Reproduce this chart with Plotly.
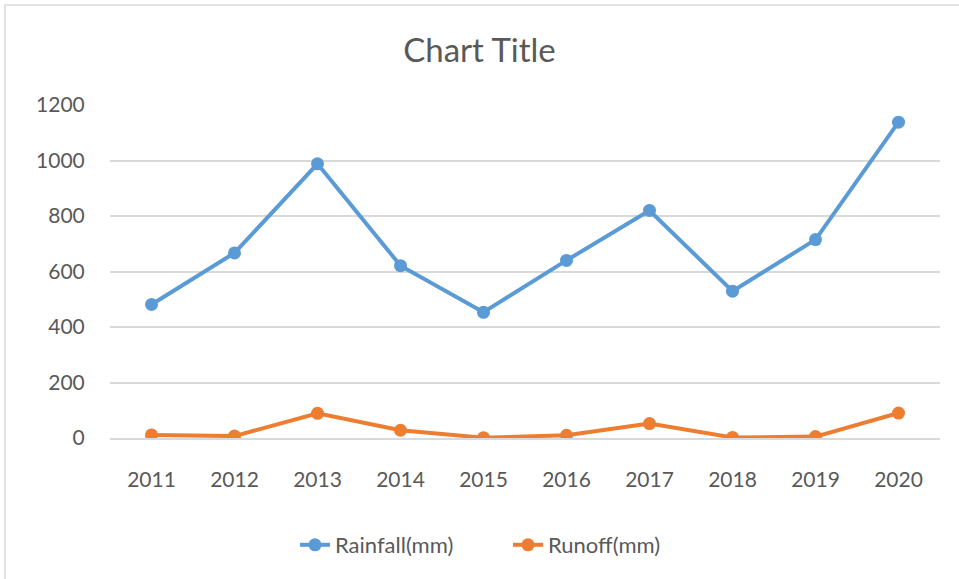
import plotly.graph_objects as go

years = ["2011", "2012", "2013", "2014", "2015", "2016", "2017", "2018", "2019", "2020"]
rainfall = [481, 667, 988, 621, 453, 640, 820, 529, 715, 1138]
runoff = [11, 7, 89, 28, 1, 10, 52, 2, 5, 90]

BLUE = "#5B9BD5"
ORANGE = "#ED7D31"
TXT = "#595959"
FONT = "Lato, Open Sans, sans-serif"

W, H = 959, 579
L, R, T, B = 110, 19, 105, 141
PW, PH = W - L - R, H - T - B

fig = go.Figure()
fig.add_trace(go.Scatter(x=years, y=rainfall, name="Rainfall(mm)", mode="lines+markers",
                         line=dict(color=BLUE, width=4), marker=dict(size=13, color=BLUE)))
fig.add_trace(go.Scatter(x=years, y=runoff, name="Runoff(mm)", mode="lines+markers",
                         line=dict(color=ORANGE, width=4), marker=dict(size=13, color=ORANGE)))

fig.update_layout(
    width=W, height=H,
    paper_bgcolor="white", plot_bgcolor="white",
    margin=dict(l=L, r=R, t=T, b=B, autoexpand=False),
    font=dict(family=FONT, color=TXT, size=21),
    title=dict(text="Chart Title", x=0.5, xanchor="center", y=1 - 50 / H, yanchor="middle",
               font=dict(size=33, color=TXT, family=FONT)),
    showlegend=True,
    legend=dict(orientation="h", x=(508 - L) / PW, xanchor="center", y=-(545 - 438) / PH, yanchor="middle",
                font=dict(size=22, color=TXT), entrywidth=168, entrywidthmode="pixels"),
    xaxis=dict(type="category", range=[-0.5, 9.5], showgrid=False, showline=True, automargin=False,
               linecolor="#D9D9D9", linewidth=1.5, ticks="outside", ticklen=22, tickcolor="rgba(0,0,0,0)",
               tickfont=dict(size=21, color=TXT)),
    yaxis=dict(range=[0, 1200], dtick=200, showgrid=True, gridcolor="#D9D9D9", gridwidth=1.5,
               automargin=False, zeroline=False, showline=False, ticks="outside", ticklen=20,
               tickcolor="rgba(0,0,0,0)", tickfont=dict(size=21, color=TXT)),
    shapes=[dict(type="rect", xref="paper", yref="paper", x0=(5 - L) / PW, x1=1.2,
                 y0=-1.0, y1=(438 - 5) / PH,
                 line=dict(color="#D9D9D9", width=1.5), fillcolor="rgba(0,0,0,0)", layer="below")],
)

fig.write_html("out.html", config={"displayModeBar": False},
               post_script="document.body.style.margin='0';")
